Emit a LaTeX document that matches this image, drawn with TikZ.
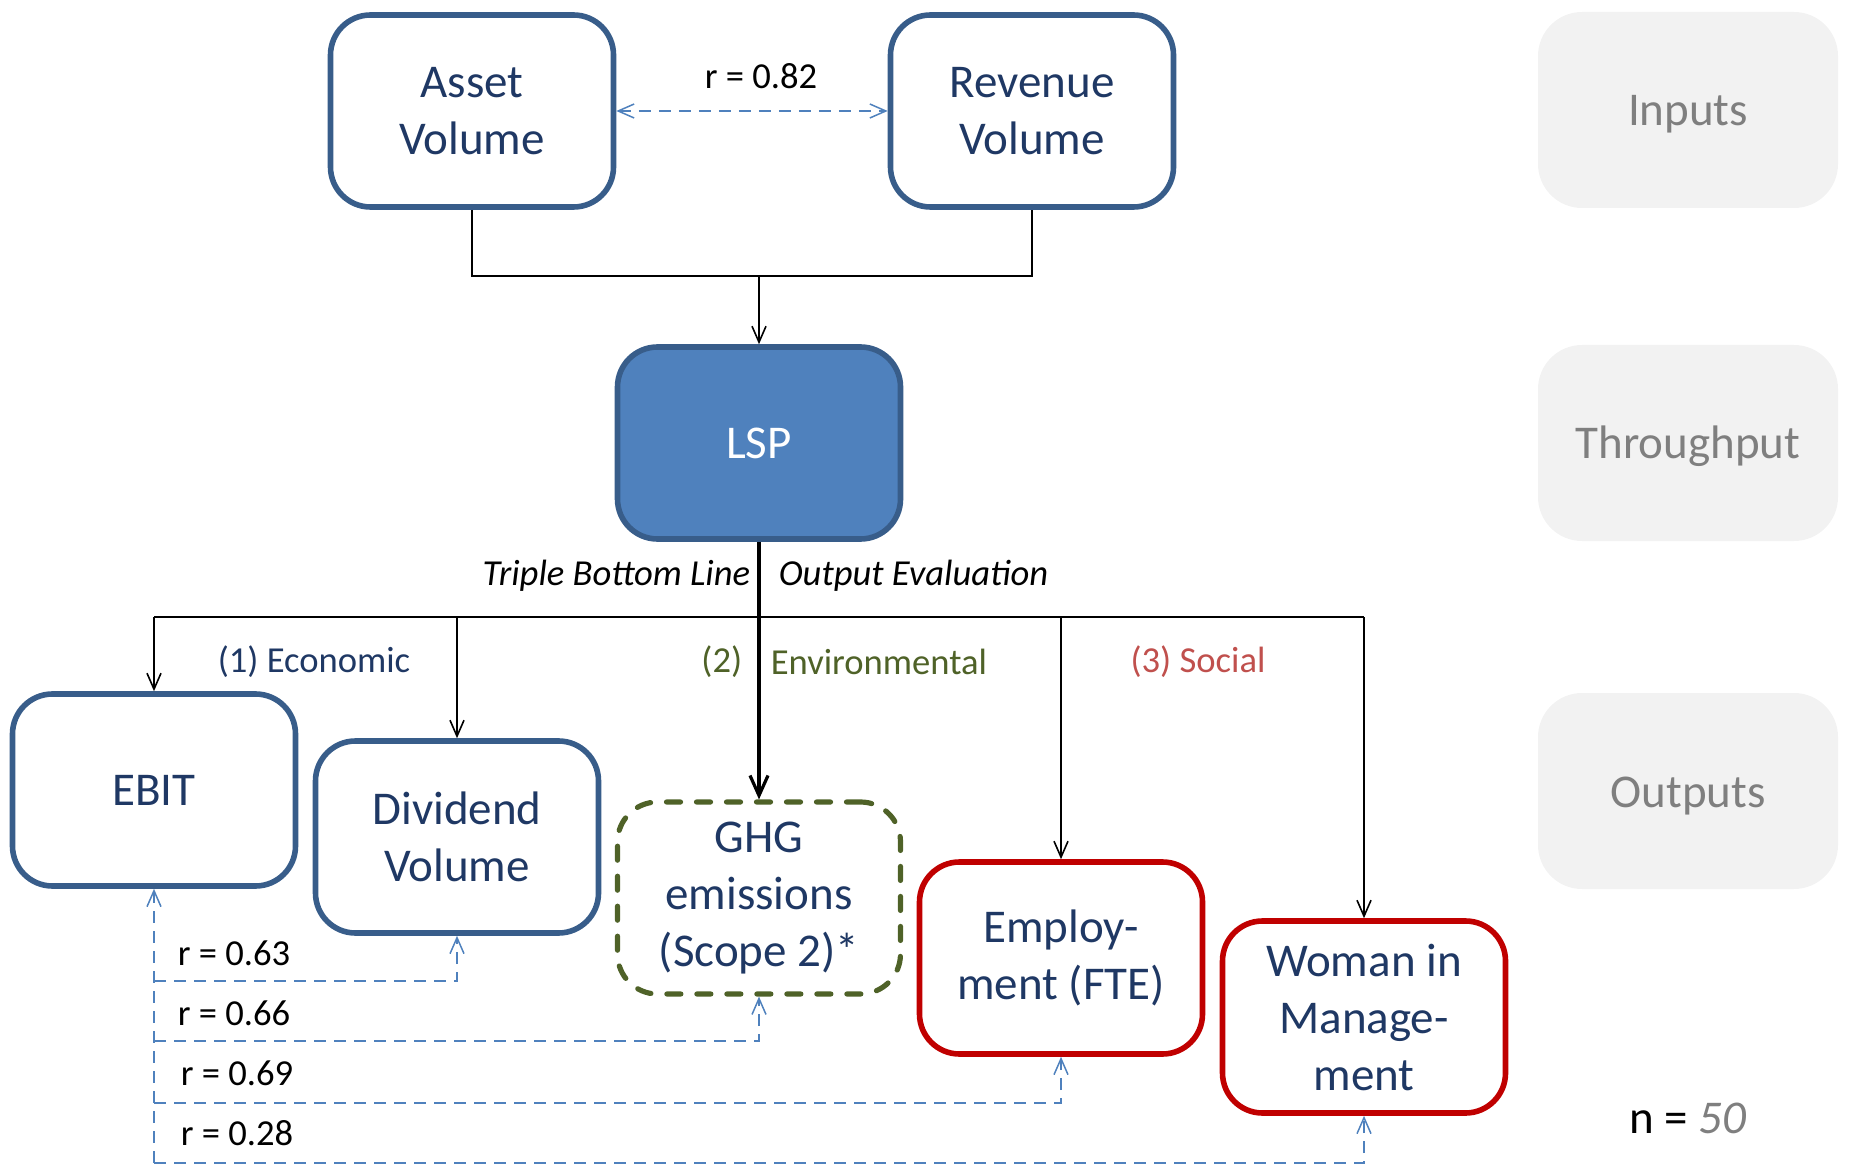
\documentclass[tikz,border=0pt]{standalone}
\usepackage{fontspec}
\setmainfont{Carlito}
\usetikzlibrary{arrows.meta,positioning}
\definecolor{boxblue}{HTML}{385D8A}
\definecolor{lspblue}{HTML}{4F81BD}
\definecolor{textblue}{HTML}{1F3864}
\definecolor{corrblue}{HTML}{4F81BD}
\definecolor{envgreen}{HTML}{4F6228}
\definecolor{socred}{HTML}{C00000}
\definecolor{soclabel}{HTML}{C0504D}
\definecolor{stagegray}{HTML}{F2F2F2}
\definecolor{stagetext}{HTML}{7F7F7F}
\newcommand{\bigfont}{\fontsize{23.5}{28.5}\selectfont}
\newcommand{\smallfont}{\fontsize{18.3}{22}\selectfont}

\begin{document}
\begin{tikzpicture}[x=0.5pt,y=-0.5pt,>={Straight Barb[length=8pt,width=7pt]},line width=0.8pt,
    box/.style={draw=boxblue,line width=2.8pt,rounded corners=20pt,minimum width=141.5pt,minimum height=96pt,align=center,text=textblue,font=\bigfont,inner sep=0pt},
    ghgbox/.style={draw=envgreen,line width=2.6pt,dash pattern=on 7pt off 8pt,line cap=round},
    socialbox/.style={draw=socred},
    stage/.style={fill=stagegray,rounded corners=22pt,minimum width=150pt,minimum height=98pt,text=stagetext,font=\bigfont,text height=16pt,text depth=0pt},
    corr/.style={draw=corrblue,line width=0.75pt,dash pattern=on 6pt off 4pt},
    lbl/.style={font=\smallfont,inner sep=0pt}]
    \useasboundingbox (0,0) rectangle (1851,1165);

    % inputs and throughput
    \node[box] (asset) at (472,111) {Asset\\Volume};
    \node[box] (revenue) at (1032,111) {Revenue\\Volume};
    \node[box,fill=lspblue,text=white] (lsp) at (759,443) {LSP};

    % outputs
    \node[box] (ebit) at (154,790) {EBIT};
    \node[box] (dividend) at (457,837) {Dividend\\Volume};
    \node[box,ghgbox] (ghg) at (759,898) {GHG\\emissions\\(Scope 2)*};
    \node[box,socialbox] (employ) at (1061,958) {Employ-\\ment (FTE)};
    \node[box,socialbox] (woman) at (1364,1017) {Woman in\\Manage-\\ment};

    % stages on the right
    \node[stage] (inputs) at (1688,110) {Inputs};
    \node[stage] (throughput) at (1688,443) {Throughput};
    \node[stage] (outputs) at (1688,791) {Outputs};
    \node[font=\bigfont] (n) at (1688,1118) {n = \textcolor{stagetext}{\itshape 50}};

    % labels
    \node[lbl] (r82) at (761,76) {r = 0.82};
    \node[lbl,font=\smallfont\itshape,anchor=east] (tbl) at (751,576) {Triple Bottom Line};
    \node[lbl,font=\smallfont\itshape,anchor=west] (oe) at (778,576) {Output Evaluation};
    \node[lbl,text=textblue] (econ) at (314,662) {(1) Economic};
    \node[lbl,text=envgreen,anchor=east] (env1) at (743,662) {(2)};
    \node[lbl,text=envgreen,anchor=west] (env2) at (770,662) {Environmental};
    \node[lbl,text=soclabel] (soc) at (1198,662) {(3) Social};

    \coordinate (join) at (759,276);
    \coordinate (bus) at (759,617);

    \draw (asset.south) |- (join) -| (revenue.south);
    \draw[->] (join) -- (lsp.north);
    \draw[line width=1.6pt,-{Straight Barb[length=10pt,width=9pt]}] (lsp.south) -- (ghg.north);
    \draw (ebit.north |- bus) -- (woman.north |- bus);
    \path[->]
        (ebit.north |- bus) edge (ebit.north)
        (dividend.north |- bus) edge (dividend.north)
        (employ.north |- bus) edge (employ.north)
        (woman.north |- bus) edge (woman.north)
    ;

    % correlations
    \draw[corr,<->] (asset) -- (revenue);
    \coordinate (c1) at (154,981);
    \coordinate (c2) at (154,1041);
    \coordinate (c3) at (154,1103);
    \coordinate (c4) at (154,1163);
    \draw[corr,<-] (ebit.south) -- (c4);
    \draw[corr,->] (c1) -| (dividend.south);
    \draw[corr,->] (c2) -| (ghg.south);
    \draw[corr,->] (c3) -| (employ.south);
    \draw[corr,->] (c4) -| (woman.south);
    \node[lbl,anchor=west] (r63) at (177,953) {r = 0.63};
    \node[lbl,anchor=west] (r66) at (177,1013) {r = 0.66};
    \node[lbl,anchor=west] (r69) at (180,1073) {r = 0.69};
    \node[lbl,anchor=west] (r28) at (180,1133) {r = 0.28};
\end{tikzpicture}
\end{document}
